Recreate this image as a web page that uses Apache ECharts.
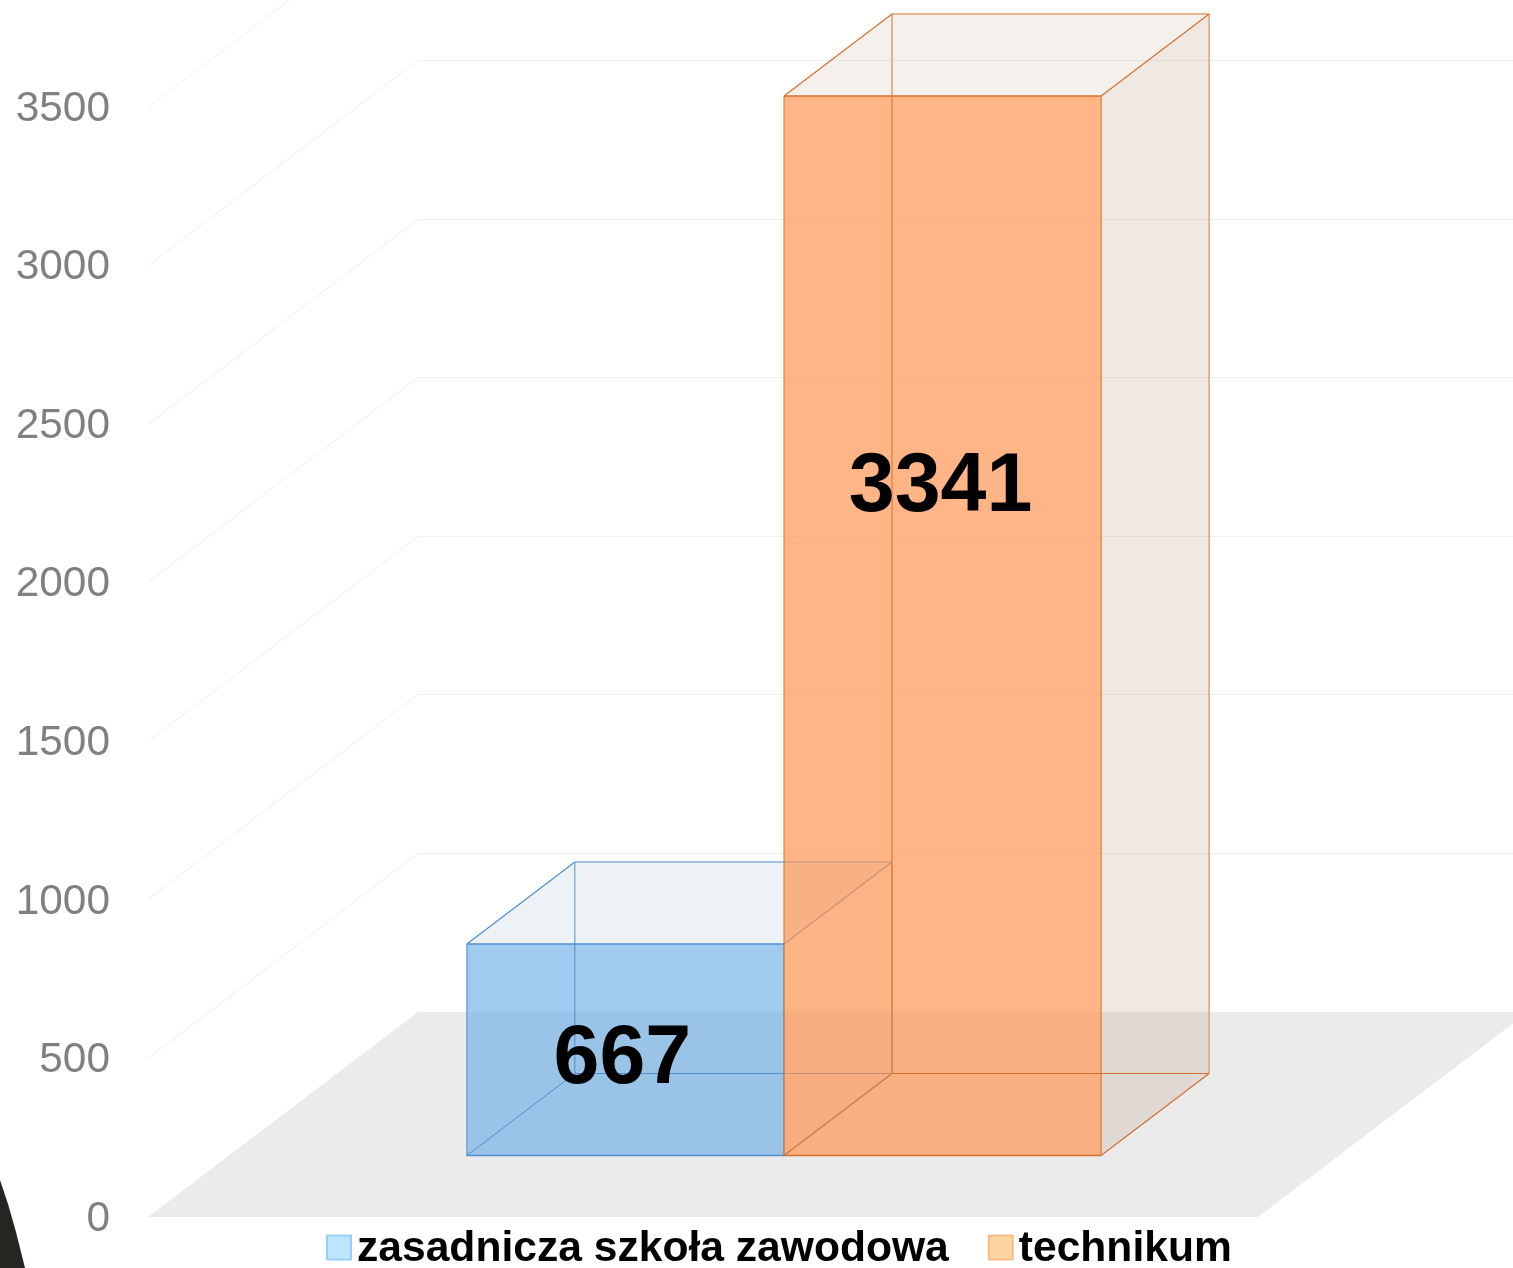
<!DOCTYPE html>
<html>
<head>
<meta charset="utf-8">
<style>
  html, body { margin: 0; padding: 0; background: #fff; overflow: hidden; }
  #chart { width: 1513px; height: 1268px; }
</style>
</head>
<body>
<div id="chart"></div>
<script src="https://cdn.jsdelivr.net/npm/echarts@6/dist/echarts.min.js"></script>
<script>
var categories = [''];
var seriesNames = ['zasadnicza szkoła zawodowa', 'technikum'];
var vocationalValues = [667];
var technikumValues = [3341];
var yTicks = [0, 500, 1000, 1500, 2000, 2500, 3000, 3500];

// depth of the fake 3D floor, in px, and where the bars sit on it
var DEPTH_X = 270;
var DEPTH_Y = -205;
var BAR_NEAR = 0.3;
var BAR_FAR = 0.7;
var GAP_WIDTH = 1.5; // as a share of one bar

var FONT = '"Liberation Sans", Arial, sans-serif';

function floorItem (params, api) {
  var c = params.coordSys;
  var y0 = api.coord([0, 0])[1];
  return {
    type: 'polygon',
    shape: { points: [
      [c.x, y0],
      [c.x + c.width, y0],
      [c.x + c.width + DEPTH_X, y0 + DEPTH_Y],
      [c.x + DEPTH_X, y0 + DEPTH_Y]
    ] },
    style: { fill: '#ebebeb' }
  };
}

function wallLineItem (params, api) {
  var c = params.coordSys;
  var y = Math.floor(api.coord([0, api.value(0)])[1]) + 0.5;
  return {
    type: 'polyline',
    shape: { points: [
      [c.x, y],
      [c.x + DEPTH_X, y + DEPTH_Y],
      [c.x + c.width + DEPTH_X, y + DEPTH_Y]
    ] },
    style: { fill: null, stroke: '#f0f0f0', lineWidth: 1 }
  };
}

function line (a, b, stroke, width) {
  return {
    type: 'line',
    shape: { x1: a[0], y1: a[1], x2: b[0], y2: b[1] },
    style: { stroke: stroke, lineWidth: width }
  };
}

function poly (points, fill) {
  return { type: 'polygon', shape: { points: points }, style: { fill: fill } };
}

// one transparent box: index 0 or 1 inside the cluster
function makeBox (index, look) {
  return function (params, api) {
    var band = api.size([1, 0])[0];
    var barW = band / (2 + GAP_WIDTH);
    var cx = api.coord([api.value(0), 0])[0];
    var y0 = api.coord([0, 0])[1];
    var yv = api.coord([0, api.value(1)])[1];
    var left = cx + (index - 1) * barW;
    var right = left + barW;

    function pt (x, y, d) {
      return [x + DEPTH_X * d, y + DEPTH_Y * d];
    }
    var fbl = pt(left, y0, BAR_NEAR);
    var fbr = pt(right, y0, BAR_NEAR);
    var ftl = pt(left, yv, BAR_NEAR);
    var ftr = pt(right, yv, BAR_NEAR);
    var bbl = pt(left, y0, BAR_FAR);
    var bbr = pt(right, y0, BAR_FAR);
    var btl = pt(left, yv, BAR_FAR);
    var btr = pt(right, yv, BAR_FAR);

    return {
      type: 'group',
      children: [
        poly([ftl, ftr, btr, btl], look.top),
        poly([fbr, ftr, btr, bbr], look.side),
        poly([fbl, fbr, ftr, ftl], look.front),
        line(btl, btr, look.edge, 1),
        line(bbl, btl, look.edge, 1),
        line(bbl, bbr, look.edge, 1),
        line(bbr, btr, look.backEdge, 1.5),
        line(fbl, bbl, look.edge, 1),
        line(fbr, bbr, look.edge, 1.2),
        line(ftl, btl, look.edge, 1.2),
        line(ftr, btr, look.edge, 1.2),
        line(fbl, ftl, look.edge, 1),
        line(fbr, ftr, look.edge, 1),
        line(ftl, ftr, look.edge, 1.5),
        line(fbl, fbr, look.edge, 1.5),
        {
          type: 'text',
          z2: 10,
          style: {
            text: String(api.value(1)),
            x: (fbl[0] + fbr[0]) / 2 + look.labelShift[0],
            y: (fbl[1] + ftl[1]) / 2 + look.labelShift[1],
            fill: '#000',
            font: 'bold 82.5px ' + FONT,
            textAlign: 'center',
            textVerticalAlign: 'middle'
          }
        }
      ]
    };
  };
}

var chart = echarts.init(document.getElementById('chart'), null, { renderer: 'canvas' });

chart.setOption({
  animation: false,
  backgroundColor: '#fff',
  grid: { left: 148, top: 107, width: 1110, height: 1110, containLabel: false },
  xAxis: { type: 'category', data: categories, show: false },
  yAxis: {
    type: 'value',
    min: 0,
    max: 3500,
    interval: 500,
    axisLine: { show: false },
    axisTick: { show: false },
    splitLine: { show: false },
    axisLabel: {
      margin: 38,
      formatter: function (v) { return '{t|' + v + '}'; },
      rich: {
        t: {
          color: '#808080',
          fontSize: 42.4,
          fontFamily: FONT,
          lineHeight: 46,
          padding: [4, 0, 0, 0]
        }
      }
    }
  },
  legend: {
    left: 321,
    top: 1223,
    itemWidth: 24,
    itemHeight: 24,
    itemGap: 39,
    selectedMode: false,
    formatter: function (name) { return '{t|' + name + '}'; },
    textStyle: {
      rich: {
        t: {
          color: '#000',
          fontSize: 42.6,
          fontWeight: 'bold',
          fontFamily: FONT,
          padding: [4, 0, 0, 1]
        }
      }
    },
    data: [
      { name: seriesNames[0], icon: 'rect', itemStyle: { color: '#bde6fd', borderColor: '#9acdf8', borderWidth: 2, borderJoin: 'round' } },
      { name: seriesNames[1], icon: 'rect', itemStyle: { color: '#fdd5a0', borderColor: '#fbbd85', borderWidth: 2, borderJoin: 'round' } }
    ]
  },
  // the dark shape cut off in the lower left corner of the slide
  graphic: [{
    type: 'polygon',
    shape: { points: [[0, 1180], [8, 1204], [16, 1232], [25, 1268], [0, 1268]] },
    style: { fill: '#262522' },
    silent: true
  }],
  series: [
    {
      type: 'custom',
      silent: true,
      clip: false,
      z: 1,
      renderItem: floorItem,
      data: [[0]]
    },
    {
      type: 'custom',
      silent: true,
      clip: false,
      z: 2,
      renderItem: wallLineItem,
      data: yTicks.slice(1).map(function (t) { return [t]; })
    },
    {
      name: seriesNames[0],
      type: 'custom',
      silent: true,
      clip: false,
      z: 3,
      encode: { x: 0, y: 1 },
      renderItem: makeBox(0, {
        front: 'rgba(109,175,231,0.65)',
        top: 'rgba(110,150,190,0.12)',
        side: 'rgba(110,150,190,0.04)',
        edge: '#4f90cc',
        backEdge: '#8fb8e0',
        labelShift: [-3, 11]
      }),
      data: vocationalValues.map(function (v, i) { return [i, v]; })
    },
    {
      name: seriesNames[1],
      type: 'custom',
      silent: true,
      clip: false,
      z: 4,
      encode: { x: 0, y: 1 },
      renderItem: makeBox(1, {
        front: 'rgba(255,146,76,0.68)',
        top: 'rgba(180,140,110,0.13)',
        side: 'rgba(180,140,110,0.2)',
        edge: '#d4702f',
        backEdge: '#e3a27c',
        labelShift: [-2, -137]
      }),
      data: technikumValues.map(function (v, i) { return [i, v]; })
    }
  ]
});
</script>
</body>
</html>
